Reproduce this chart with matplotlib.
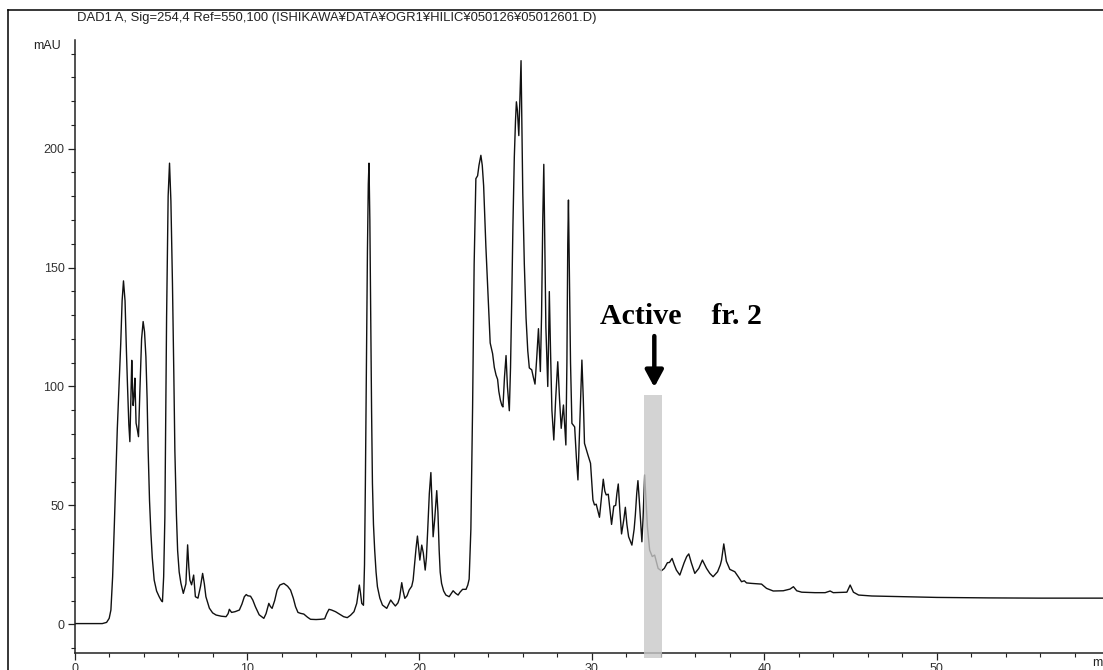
import matplotlib
matplotlib.use("Agg")
import matplotlib.pyplot as plt
from matplotlib.lines import Line2D
from matplotlib.patches import Rectangle
from matplotlib.ticker import MultipleLocator

# ---- data (retention time in min, absorbance in mAU) ----
time_min = [
    0.0, 1.0, 1.6, 1.85, 2.0, 2.1, 2.2, 2.3, 2.37, 2.47, 2.57, 2.67, 2.75, 2.83, 2.92,
    3.0, 3.06, 3.14, 3.2, 3.25, 3.31, 3.35, 3.39, 3.44, 3.49, 3.53, 3.56, 3.63, 3.70,
    3.78, 3.88, 3.97, 4.05, 4.13, 4.2, 4.26, 4.34, 4.42, 4.5, 4.61, 4.75, 4.9, 5.02,
    5.09, 5.16, 5.23, 5.33, 5.42, 5.5, 5.58, 5.67, 5.75, 5.81, 5.9, 5.97, 6.06, 6.16,
    6.3, 6.45, 6.55, 6.62, 6.68, 6.78, 6.9, 7.0, 7.15, 7.3, 7.42, 7.52, 7.61, 7.81,
    8.0, 8.2, 8.5, 8.78, 8.9, 8.97, 9.1, 9.3, 9.55, 9.7, 9.84, 9.95, 10.04, 10.2,
    10.33, 10.48, 10.7, 10.97, 11.1, 11.26, 11.35, 11.45, 11.6, 11.74, 11.9, 12.13,
    12.35, 12.52, 12.68, 12.81, 12.95, 13.1, 13.29, 13.5, 13.68, 14.0, 14.26, 14.5,
    14.62, 14.75, 14.9, 15.13, 15.42, 15.6, 15.81, 16.0, 16.2, 16.36, 16.44, 16.51,
    16.58, 16.65, 16.75, 16.81, 16.86, 16.92, 16.98, 17.03, 17.07, 17.12, 17.17, 17.22,
    17.27, 17.33, 17.4, 17.48, 17.56, 17.7, 17.85, 18.1, 18.25, 18.33, 18.45, 18.6,
    18.75, 18.84, 18.97, 19.05, 19.15, 19.28, 19.4, 19.55, 19.63, 19.72, 19.8, 19.88,
    19.95, 20.02, 20.13, 20.22, 20.33, 20.4, 20.47, 20.57, 20.66, 20.72, 20.79, 20.88,
    21.0, 21.07, 21.14, 21.2, 21.28, 21.4, 21.53, 21.72, 21.85, 21.95, 22.1, 22.24,
    22.35, 22.5, 22.7, 22.8, 22.88, 22.98, 23.08, 23.17, 23.27, 23.37, 23.45, 23.56,
    23.64, 23.72, 23.85, 23.99, 24.1, 24.24, 24.34, 24.44, 24.53, 24.6, 24.69, 24.78,
    24.84, 24.93, 25.02, 25.1, 25.21, 25.28, 25.35, 25.42, 25.5, 25.57, 25.62, 25.68,
    25.76, 25.83, 25.89, 25.94, 25.99, 26.08, 26.18, 26.28, 26.37, 26.51, 26.6, 26.7,
    26.8, 26.9, 26.96, 27.01, 27.08, 27.15, 27.21, 27.27, 27.33, 27.44, 27.49, 27.53,
    27.6, 27.68, 27.79, 27.9, 28.02, 28.12, 28.22, 28.35, 28.42, 28.49, 28.55, 28.6,
    28.64, 28.69, 28.76, 28.84, 29.0, 29.1, 29.19, 29.3, 29.42, 29.5, 29.57, 29.77,
    29.92, 30.06, 30.15, 30.25, 30.44, 30.55, 30.66, 30.75, 30.83, 30.95, 31.05, 31.14,
    31.27, 31.38, 31.45, 31.53, 31.62, 31.72, 31.85, 31.94, 32.03, 32.13, 32.32, 32.45,
    32.52, 32.6, 32.67, 32.75, 32.9, 32.97, 33.06, 33.14, 33.22, 33.35, 33.5, 33.64,
    33.84, 34.03, 34.2, 34.38, 34.5, 34.65, 34.78, 34.9, 35.1, 35.35, 35.5, 35.62,
    35.77, 35.97, 36.2, 36.41, 36.65, 36.84, 37.03, 37.29, 37.45, 37.52, 37.65, 37.8,
    38.0, 38.29, 38.49, 38.68, 38.84, 38.97, 39.26, 39.84, 40.13, 40.52, 41.1, 41.49,
    41.69, 41.88, 42.17, 42.94, 43.53, 43.82, 44.0, 44.79, 44.98, 45.17, 45.47, 46.24,
    48.0, 50.0, 53.0, 56.0, 60.0,
]
signal_mau = [
    0.3, 0.3, 0.3, 0.8, 2.5, 6, 20, 42, 59, 82, 100, 118, 136, 144.4, 136,
    115, 101, 84, 76.8, 92, 111, 100, 92, 96, 103.5, 92, 84.6, 82, 78.9,
    98, 120, 127.3, 123, 112.5, 95, 73.3, 52, 38.4, 28, 18.6, 14, 11.6, 10,
    9.5, 20, 45, 129, 180, 193.9, 178, 143.5, 105, 73, 46, 31, 22, 17.3,
    13, 17, 33.4, 24, 18.6, 16.6, 20.7, 11.6, 11, 16, 21.4, 17, 11.6, 6.8,
    4.8, 3.9, 3.4, 3.2, 4.5, 6.3, 5, 5.3, 6, 8.5, 11.6, 12.5, 12, 11.8,
    10.2, 7.4, 4, 2.5, 4.5, 8.8, 7.5, 6.7, 10, 14.4, 16.5, 17.2,
    16, 14.4, 11, 7.4, 5, 4.6, 4.3, 3, 2.1, 2.0, 2.1, 2.3,
    4.5, 6.3, 6, 5.3, 4.0, 3.2, 2.8, 3.8, 5.3, 8.8, 13, 16.5,
    13, 8.8, 8, 25, 59, 110, 157, 185, 193.9, 170, 129, 90,
    59.3, 42, 31.2, 22, 15.8, 11, 8.1, 6.7, 9, 10.2, 9, 7.7,
    9, 11, 17.5, 14, 10.9, 12, 14.4, 16, 18.6, 25.6, 32, 37.1,
    32, 27, 33.3, 30, 22.8, 28, 38.7, 55, 63.8, 52, 36.8, 44,
    56.2, 47, 31.2, 22, 17.2, 14, 12.3, 11.6, 13, 14.1, 13, 12.3,
    13.5, 14.7, 14.7, 16.5, 19, 40, 91.4, 151.5, 187.4, 188.6, 193, 197.2,
    193, 184.4, 158.9, 136.4, 118.3, 113.8, 108, 104.8, 103, 98, 94.3, 92,
    91.4, 104, 113, 100, 89.8, 108, 136.4, 168, 196.5, 212, 219.7, 216,
    205.5, 222, 237, 210, 181.4, 151.5, 128.8, 115, 107.8, 107, 104, 101,
    112, 124.3, 115, 106.3, 130, 170, 193.4, 160, 125, 100, 120, 139.9,
    115, 90, 77.5, 95, 110.4, 95, 82.4, 92.2, 84, 75.4, 110, 160,
    178.4, 150, 110, 84.5, 83, 70, 60.7, 85, 111.1, 95, 76.1, 71.2,
    67.7, 52.3, 50.2, 50.5, 45, 53, 61, 56, 54.4, 54.7, 48, 42,
    49.7, 50, 55, 59, 48, 38, 44, 49.2, 42, 36.8, 33.3, 40,
    46, 55, 60.4, 52, 34.7, 45, 62.8, 52, 41, 31.2, 28.5, 29.1,
    23.5, 22.5, 23.5, 25.9, 26, 27.7, 25, 22.8, 20.7, 25.9, 28.5, 29.6,
    25.8, 21.4, 23.5, 27, 23.5, 21.4, 20, 22.1, 25, 27, 33.8, 26.5,
    23.1, 22.1, 20, 17.9, 18.3, 17.4, 17.2, 16.9, 15.1, 14, 14.1, 14.8,
    15.8, 14.1, 13.5, 13.3, 13.3, 14, 13.3, 13.5, 16.5, 13.5, 12.3, 11.9,
    11.6, 11.3, 11.1, 11.0, 11.0,
]
x_ticks = [0, 10, 20, 30, 40, 50]
y_ticks = [0, 50, 100, 150, 200]
fraction_window = [33.03, 34.07]   # collected fraction (min)
fraction_top = 96.4                # mAU
title_text = "DAD1 A, Sig=254,4 Ref=550,100 (ISHIKAWA\u00a5DATA\u00a5OGR1\u00a5HILIC\u00a5050126\u00a505012601.D)"
label_text = "Active    fr. 2"

W, H = 1103, 670
fig = plt.figure(figsize=(W / 100, H / 100), dpi=100)
fig.patch.set_facecolor("white")

px_per_min = 17.24
left_px, axis_bottom_px, axis_top_px = 74.7, 653.0, 39.5
ymin, ymax = -12.07, 245.9
ax = fig.add_axes([left_px / W, (H - axis_bottom_px) / H,
                   60 * px_per_min / W, (axis_bottom_px - axis_top_px) / H])
ax.set_xlim(0, 60)
ax.set_ylim(ymin, ymax)

ax.plot(time_min, signal_mau, color="#111111", lw=1.0, solid_joinstyle="round")

# collected fraction
ax.add_patch(Rectangle((fraction_window[0], -14.0), fraction_window[1] - fraction_window[0],
                       fraction_top + 14.0, facecolor="#c8c8c8", edgecolor="none",
                       alpha=0.8, zorder=3, clip_on=False))

# annotation
ax.text(35.17, 129.6, label_text, ha="center", va="center",
        fontfamily="Liberation Serif", fontweight="bold", fontsize=21.5, color="black")
ax.annotate("", xy=(33.62, 99.7), xytext=(33.62, 121.2),
            arrowprops=dict(arrowstyle="-|>,head_length=0.5,head_width=0.27",
                            lw=3.2, color="black", mutation_scale=20,
                            shrinkA=0, shrinkB=0))

# axes styling
for s in ("top", "right"):
    ax.spines[s].set_visible(False)
for s in ("left", "bottom"):
    ax.spines[s].set_linewidth(1.1)
    ax.spines[s].set_color("#222222")
ax.set_xticks(x_ticks)
ax.set_yticks(y_ticks)
ax.xaxis.set_minor_locator(MultipleLocator(2))
ax.yaxis.set_minor_locator(MultipleLocator(10))
ax.tick_params(axis="both", which="major", direction="out", length=4.8, width=0.9,
               color="#222222", labelsize=9, labelcolor="#333333", pad=2.5)
ax.tick_params(axis="both", which="minor", direction="out", length=2.6, width=0.8,
               color="#222222")
for lab in ax.get_xticklabels() + ax.get_yticklabels():
    lab.set_fontfamily("Liberation Sans")

# outer frame (cropped on right/bottom)
fig.add_artist(Line2D([8 / W, 8 / W], [0, 1 - 10 / H], color="black", lw=1.1,
                      transform=fig.transFigure))
fig.add_artist(Line2D([8 / W, 1], [1 - 10 / H, 1 - 10 / H], color="black", lw=1.1,
                      transform=fig.transFigure))

fig.text(77 / W, 1 - 18 / H, title_text, ha="left", va="center",
         fontsize=9.4, fontfamily="Liberation Sans", color="#222222")
fig.text(61 / W, 1 - 46 / H, "mAU", ha="right", va="center",
         fontsize=9, fontfamily="Liberation Sans", color="#222222")
fig.text(1092 / W, 1 - 666 / H, "min", ha="left", va="baseline",
         fontsize=9, fontfamily="Liberation Sans", color="#222222")

fig.savefig("out.png", dpi=100, facecolor="white")
